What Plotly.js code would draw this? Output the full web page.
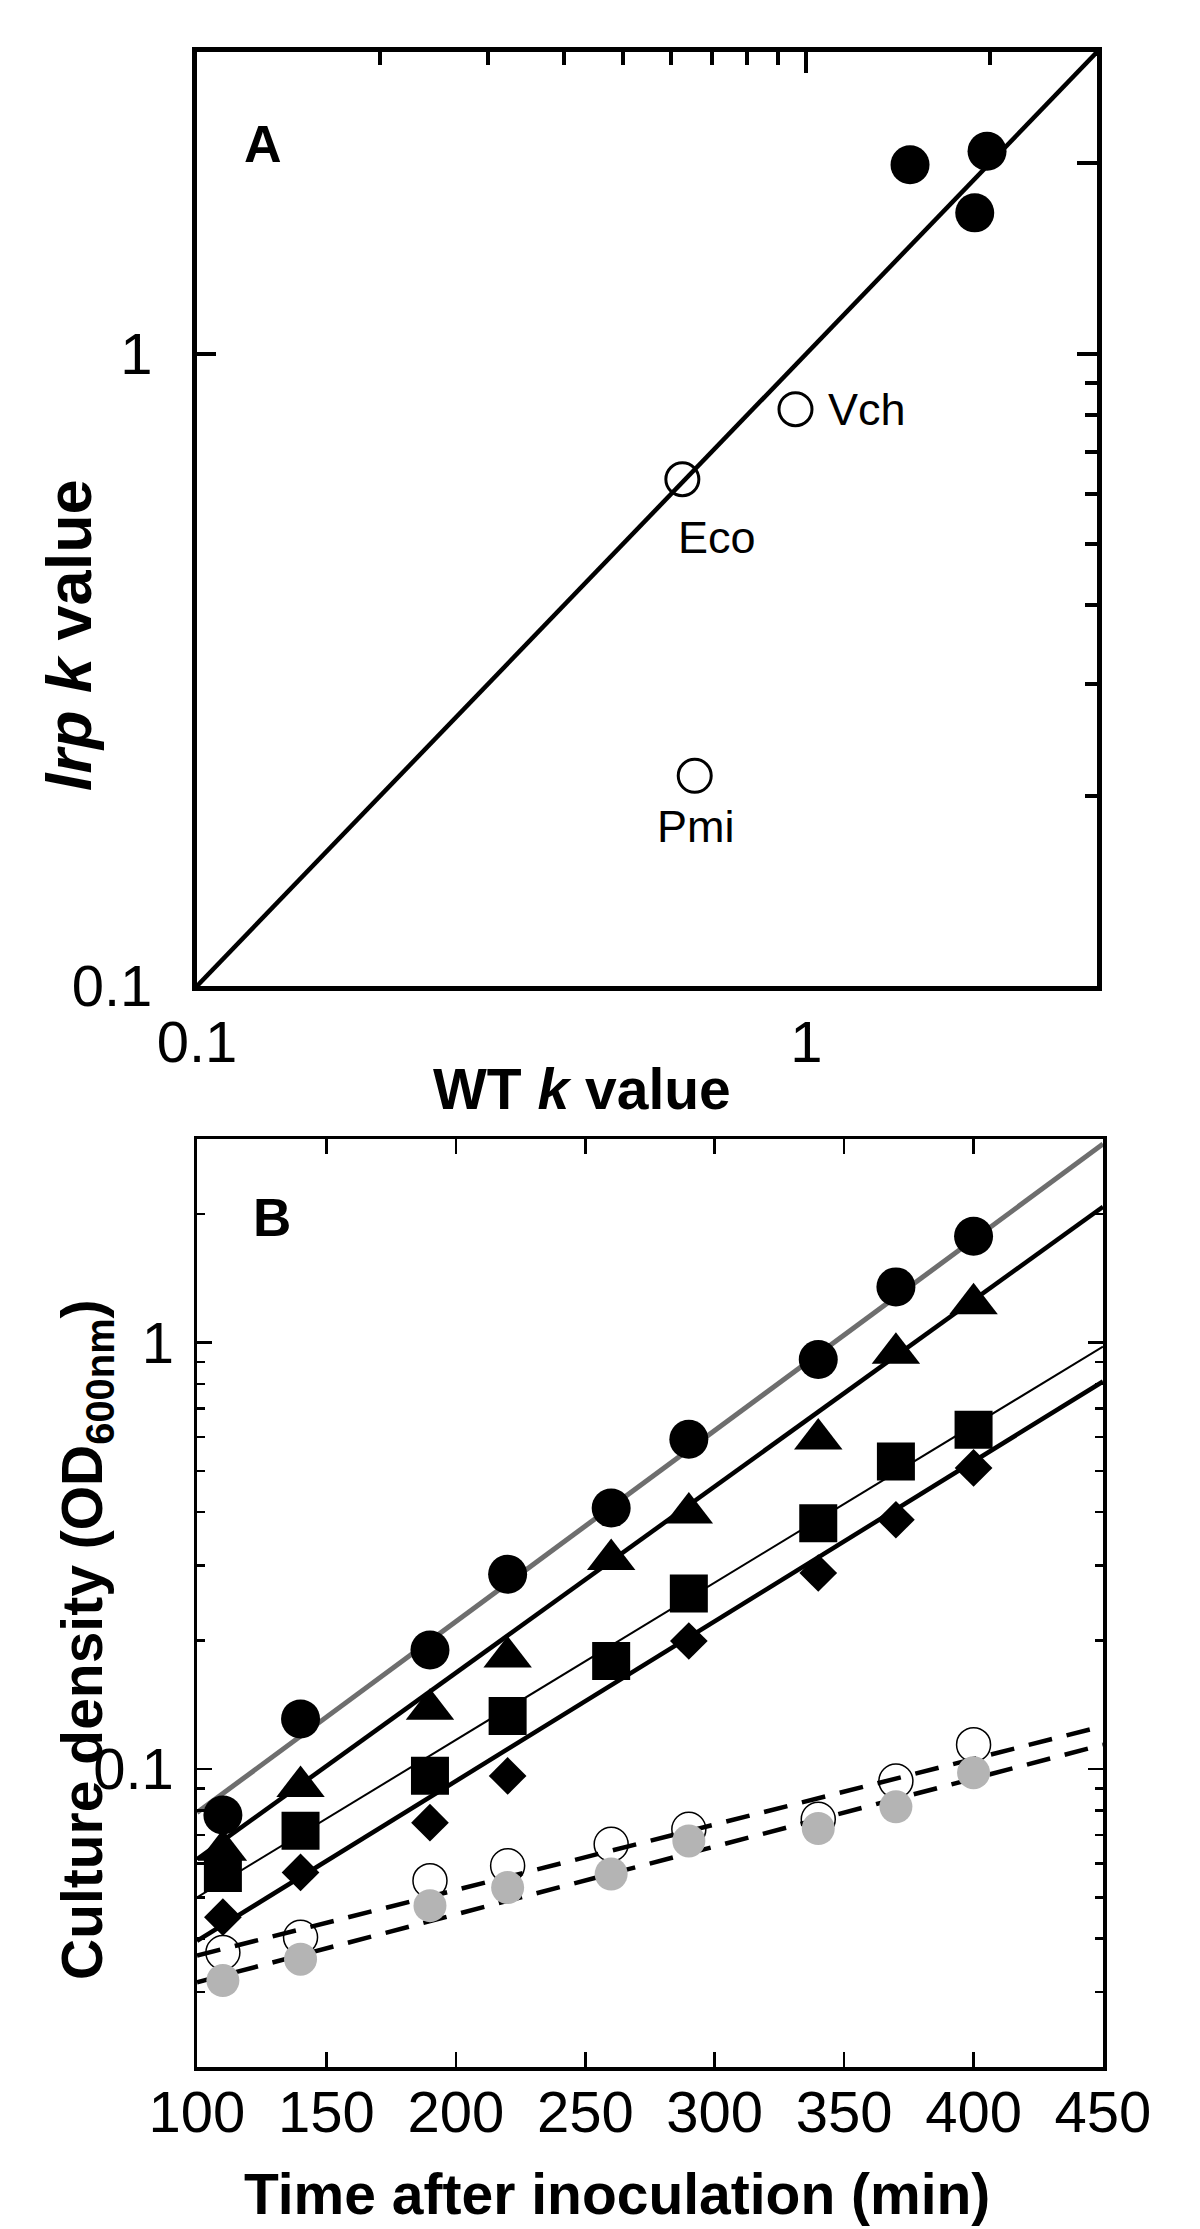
<!DOCTYPE html>
<html><head><meta charset="utf-8">
<script src="https://cdn.plot.ly/plotly-3.0.1.min.js"></script>
<style>html,body{margin:0;padding:0;background:#fff}</style>
</head><body><div id="chart" style="width:1200px;height:2229px"></div>
<script>
// ---------- Panel A data ----------
const speciesNames = ['Eco', 'Vch', 'Pmi'];
const wtKOpen = [0.626, 0.96, 0.656];
const lrpKOpen = [0.633, 0.817, 0.215];
const wtKFilled = [1.48, 1.98, 1.89];
const lrpKFilled = [1.99, 2.09, 1.67];
const identityLine = [0.1, 3];
const kTickVals = [0.1, 1];
const kTickText = ['0.1', '1'];

// ---------- Panel B data ----------
const timeMin = [110, 140, 190, 220, 260, 290, 340, 370, 400];
const odCircle   = [0.078, 0.131, 0.19, 0.286, 0.409, 0.593, 0.912, 1.35, 1.775];
const odTriangle = [0.0645, 0.091, 0.138, 0.183, 0.310, 0.398, 0.594, 0.944, 1.233];
const odSquare   = [0.057, 0.0716, 0.0964, 0.133, 0.179, 0.258, 0.377, 0.526, 0.624];
const odDiamond  = [0.0449, 0.0572, 0.0748, 0.0963, null, 0.1995, 0.288, 0.384, 0.508];
const odOpen     = [0.0371, 0.0403, 0.0547, 0.0593, 0.0666, 0.0722, 0.0762, 0.0937, 0.114];
const odGray     = [0.0319, 0.0358, 0.0478, 0.0527, 0.0567, 0.0678, 0.0725, 0.0815, 0.098];
const fitTime     = [100, 450];
const fitCircle   = [0.079, 2.92];
const fitTriangle = [0.0614, 2.08];
const fitSquare   = [0.050, 0.978];
const fitDiamond  = [0.0395, 0.81];
const fitOpen     = [0.0365, 0.126];
const fitGray     = [0.0316, 0.114];
const timeTicks = [100, 150, 200, 250, 300, 350, 400, 450];
const odTickVals = [0.1, 1];
const odTickText = ['0.1', '1'];

// ---------- layout helpers ----------
const W = 1200, H = 2229;
const px = v => v / W;
const py = v => 1 - v / H;
const FONT = 'Liberation Sans, Arial, sans-serif';
const lg = Math.log10;

const minorA = [0.2, 0.3, 0.4, 0.5, 0.6, 0.7, 0.8, 0.9];
const minorB = [0.03, 0.04, 0.05, 0.06, 0.07, 0.08, 0.09, 0.2, 0.3, 0.4, 0.5, 0.6, 0.7, 0.8, 0.9, 2];

const traces = [
  // Panel A
  {x: identityLine, y: identityLine, xaxis: 'x3', yaxis: 'y3', mode: 'lines',
   line: {color: '#000', width: 4.5}, showlegend: false, hoverinfo: 'skip'},
  {x: wtKOpen, y: lrpKOpen, xaxis: 'x', yaxis: 'y', mode: 'markers',
   marker: {symbol: 'circle', size: 33, color: '#fff', line: {color: '#000', width: 3}},
   showlegend: false},
  {x: wtKFilled, y: lrpKFilled, xaxis: 'x', yaxis: 'y', mode: 'markers',
   marker: {symbol: 'circle', size: 39, color: '#000'}, showlegend: false},

  // Panel B
  {x: timeMin, y: odOpen, xaxis: 'x2', yaxis: 'y2', mode: 'markers',
   marker: {symbol: 'circle', size: 34, color: '#fff', line: {color: '#000', width: 1.5}}, showlegend: false},
  {x: fitTime, y: fitOpen, xaxis: 'x2', yaxis: 'y2', mode: 'lines',
   line: {color: '#000', width: 4.5, dash: '24px,15px'}, showlegend: false},
  {x: fitTime, y: fitGray, xaxis: 'x2', yaxis: 'y2', mode: 'lines',
   line: {color: '#000', width: 4.5, dash: '24px,15px'}, showlegend: false},
  {x: timeMin, y: odGray, xaxis: 'x2', yaxis: 'y2', mode: 'markers',
   marker: {symbol: 'circle', size: 33, color: '#b4b4b4'}, showlegend: false},
  {x: fitTime, y: fitCircle, xaxis: 'x2', yaxis: 'y2', mode: 'lines',
   line: {color: '#6e6e6e', width: 5}, showlegend: false},
  {x: fitTime, y: fitTriangle, xaxis: 'x2', yaxis: 'y2', mode: 'lines',
   line: {color: '#000', width: 4.5}, showlegend: false},
  {x: fitTime, y: fitSquare, xaxis: 'x2', yaxis: 'y2', mode: 'lines',
   line: {color: '#000', width: 2}, showlegend: false},
  {x: fitTime, y: fitDiamond, xaxis: 'x2', yaxis: 'y2', mode: 'lines',
   line: {color: '#000', width: 4.5}, showlegend: false},
  {x: timeMin, y: odCircle, xaxis: 'x2', yaxis: 'y2', mode: 'markers',
   marker: {symbol: 'circle', size: 39, color: '#000'}, showlegend: false},
  {x: timeMin, y: odTriangle, xaxis: 'x2', yaxis: 'y2', mode: 'markers',
   marker: {symbol: 'triangle-up', size: 42, color: '#000'}, showlegend: false},
  {x: timeMin, y: odSquare, xaxis: 'x2', yaxis: 'y2', mode: 'markers',
   marker: {symbol: 'square', size: 38, color: '#000'}, showlegend: false},
  {x: timeMin, y: odDiamond, xaxis: 'x2', yaxis: 'y2', mode: 'markers',
   marker: {symbol: 'diamond', size: 29, color: '#000'}, showlegend: false}
];

const tickFont = {family: FONT, size: 58, color: '#000'};
const rangeA = [lg(0.1), lg(3)];
const rangeBy = [lg(0.02), lg(3)];

const labelOffsets = {Eco: {xs: 35, ys: -58, xa: 'center'}, Vch: {xs: 31, ys: 0, xa: 'left'}, Pmi: {xs: 1, ys: -51, xa: 'center'}};
const speciesAnn = speciesNames.map((n, i) => ({
  xref: 'x', yref: 'y', x: lg(wtKOpen[i]), y: lg(lrpKOpen[i]), text: n, showarrow: false,
  xanchor: labelOffsets[n].xa, yanchor: 'middle', xshift: labelOffsets[n].xs, yshift: labelOffsets[n].ys,
  font: {family: FONT, size: 45, color: '#000'}
}));

const layout = {
  width: W, height: H, autosize: false,
  margin: {l: 0, r: 0, t: 0, b: 0},
  paper_bgcolor: '#fff', plot_bgcolor: '#fff',
  showlegend: false,
  xaxis: {domain: [px(197), px(1097)], anchor: 'y', type: 'log', range: rangeA,
    tickmode: 'array', tickvals: kTickVals, ticktext: kTickText, ticks: '',
    tickfont: tickFont, ticklabelstandoff: 1,
    showline: true, linecolor: '#000', linewidth: 5, mirror: true,
    showgrid: false, zeroline: false},
  yaxis: {domain: [py(986), py(52)], anchor: 'x', type: 'log', range: rangeA,
    tickmode: 'array', tickvals: kTickVals, ticktext: kTickText, ticks: 'inside',
    ticklen: 19, tickwidth: 4, tickcolor: '#000',
    tickfont: tickFont, ticklabelstandoff: 28,
    showline: true, linecolor: '#000', linewidth: 5, mirror: true,
    showgrid: false, zeroline: false},
  xaxis3: {overlaying: 'x', side: 'top', anchor: 'y', type: 'log', range: rangeA,
    tickmode: 'array', tickvals: [1], ticks: 'inside', ticklen: 21, tickwidth: 4, tickcolor: '#000',
    minor: {tickmode: 'array', tickvals: minorA.concat([2]), ticks: 'inside', ticklen: 13, tickwidth: 4, tickcolor: '#000', showgrid: false},
    showticklabels: false, showline: false, showgrid: false, zeroline: false},
  yaxis3: {overlaying: 'y', side: 'right', anchor: 'x', type: 'log', range: rangeA,
    tickmode: 'array', tickvals: [1, 2], ticks: 'inside', ticklen: 20, tickwidth: 4, tickcolor: '#000',
    minor: {tickmode: 'array', tickvals: minorA, ticks: 'inside', ticklen: 12, tickwidth: 4, tickcolor: '#000', showgrid: false},
    showticklabels: false, showline: false, showgrid: false, zeroline: false},

  xaxis2: {domain: [px(197), px(1103)], anchor: 'y2', range: [100, 450],
    tickmode: 'array', tickvals: timeTicks, ticks: 'inside', ticklen: 15, tickwidth: 2.5, tickcolor: '#000',
    tickfont: tickFont, ticklabelstandoff: -8,
    showline: true, linecolor: '#000', linewidth: 3.5, mirror: 'ticks',
    showgrid: false, zeroline: false},
  yaxis2: {domain: [py(2067), py(1139)], anchor: 'x2', type: 'log', range: rangeBy,
    tickmode: 'array', tickvals: odTickVals, ticktext: odTickText, ticks: 'inside', ticklen: 15, tickwidth: 2.5, tickcolor: '#000',
    minor: {tickmode: 'array', tickvals: minorB, ticks: 'inside', ticklen: 8, tickwidth: 2.5, tickcolor: '#000', showgrid: false},
    tickfont: tickFont, ticklabelstandoff: 8,
    showline: true, linecolor: '#000', linewidth: 3.5, mirror: 'ticks',
    showgrid: false, zeroline: false},

  annotations: speciesAnn.concat([
    {xref: 'paper', yref: 'paper', x: px(263), y: py(144), text: '<b>A</b>', showarrow: false,
     xanchor: 'center', yanchor: 'middle', font: {family: FONT, size: 52, color: '#000'}},
    {xref: 'paper', yref: 'paper', x: px(272), y: py(1217), text: '<b>B</b>', showarrow: false,
     xanchor: 'center', yanchor: 'middle', font: {family: FONT, size: 53, color: '#000'}},
    {xref: 'paper', yref: 'paper', x: px(582), y: py(1089), text: '<b>WT <i>k</i> value</b>', showarrow: false,
     xanchor: 'center', yanchor: 'middle', font: {family: FONT, size: 57, color: '#000'}},
    {xref: 'paper', yref: 'paper', x: px(69), y: py(635), text: '<b><i>lrp k</i> value</b>', showarrow: false,
     textangle: -90, xanchor: 'center', yanchor: 'middle', font: {family: FONT, size: 63, color: '#000'}},
    {xref: 'paper', yref: 'paper', x: px(617), y: py(2194), text: '<b>Time after inoculation (min)</b>', showarrow: false,
     xanchor: 'center', yanchor: 'middle', font: {family: FONT, size: 57, color: '#000'}},
    {xref: 'paper', yref: 'paper', x: px(86), y: py(1640), text: '<b>Culture density (OD<sub>600nm</sub>)</b>', showarrow: false,
     textangle: -90, xanchor: 'center', yanchor: 'middle', font: {family: FONT, size: 57, color: '#000'}}
  ])
};

Plotly.newPlot('chart', traces, layout, {staticPlot: true, displayModeBar: false});
</script></body></html>
